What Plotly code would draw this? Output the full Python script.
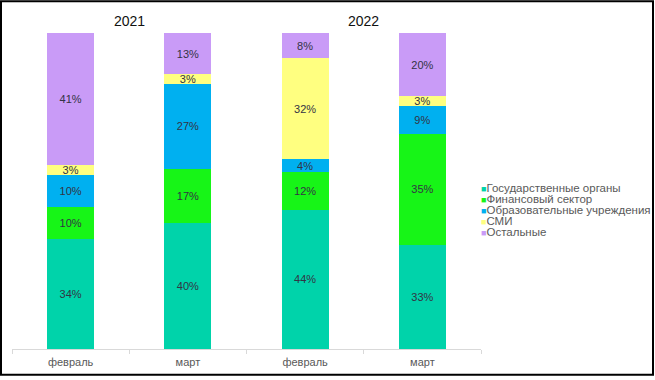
import plotly.graph_objects as go

categories = ["февраль", "март", "февраль ", "март "]
tick_labels = ["февраль", "март", "февраль", "март"]
years = ["2021", "2022"]

series_names = ["Государственные органы", "Финансовый сектор",
                "Образовательные учреждения", "СМИ", "Остальные"]
gov = [34, 40, 44, 33]
fin = [10, 17, 12, 35]
edu = [10, 27, 4, 9]
media = [3, 3, 32, 3]
other = [41, 13, 8, 20]
series_values = [gov, fin, edu, media, other]
colors = ["#00D3AA", "#17F517", "#00B0F0", "#FFFF80", "#C99BF7"]

W, H = 655, 380
ml, mr, mt, mb = 12, 174, 33, 28
pw, ph = W - ml - mr, H - mt - mb

fig = go.Figure()
for name, vals, col in zip(series_names, series_values, colors):
    fig.add_trace(go.Bar(
        x=categories, y=vals, name=name, marker_color=col,
        marker_line_width=0,
        text=[f"{v}%" for v in vals], textposition="inside",
        insidetextanchor="middle", textangle=0,
        textfont=dict(family="Liberation Sans, Arial", size=11, color="#333344"),
        showlegend=False, hoverinfo="skip",
    ))

annotations = []
# year labels centred between month pairs
for i, yr in enumerate(years):
    annotations.append(dict(
        x=2 * i + 0.5, xref="x", y=(mt - 21) / ph + 1, yref="paper",
        text=yr, showarrow=False, xanchor="center", yanchor="middle",
        font=dict(family="Liberation Sans, Arial", size=14, color="#111111"),
    ))

# legend drawn as text
leg_y = [189, 200.5, 212, 223, 234]
for name, col, py in zip(series_names, colors, leg_y):
    annotations.append(dict(
        x=(479 - ml) / pw, xref="paper", y=(H - mb - py) / ph, yref="paper",
        text=f"<span style='color:{col};font-size:9px'>■</span>{name}",
        showarrow=False, xanchor="left", yanchor="middle",
        font=dict(family="Liberation Sans, Arial", size=11.5, color="#595959"),
    ))

fig.update_layout(
    width=W, height=H, barmode="stack", barnorm="percent", bargap=0.6,
    margin=dict(l=ml, r=mr, t=mt, b=mb, pad=0),
    paper_bgcolor="white", plot_bgcolor="white",
    uniformtext=dict(minsize=11, mode="show"),
    annotations=annotations,
    shapes=[dict(type="rect", xref="paper", yref="paper",
                 x0=(-ml + 1) / pw, x1=1 + (mr - 2) / pw,
                 y0=(-mb + 2) / ph, y1=1 + (mt - 1) / ph,
                 line=dict(color="black", width=2), fillcolor="rgba(0,0,0,0)")],
    xaxis=dict(tickvals=categories, ticktext=tick_labels, showline=True,
               linecolor="#D9D9D9", linewidth=1, ticks="outside",
               tickson="boundaries", ticklen=4, tickcolor="#D9D9D9",
               ticklabelstandoff=3,
               showgrid=False, zeroline=False,
               tickfont=dict(family="Liberation Sans, Arial", size=11, color="#595959")),
    yaxis=dict(visible=False, range=[0, 100], showgrid=False),
)

fig.write_html("out.html", config={"displayModeBar": False},
               post_script="document.body.style.margin='0';"
                           "document.body.style.overflow='hidden';")
